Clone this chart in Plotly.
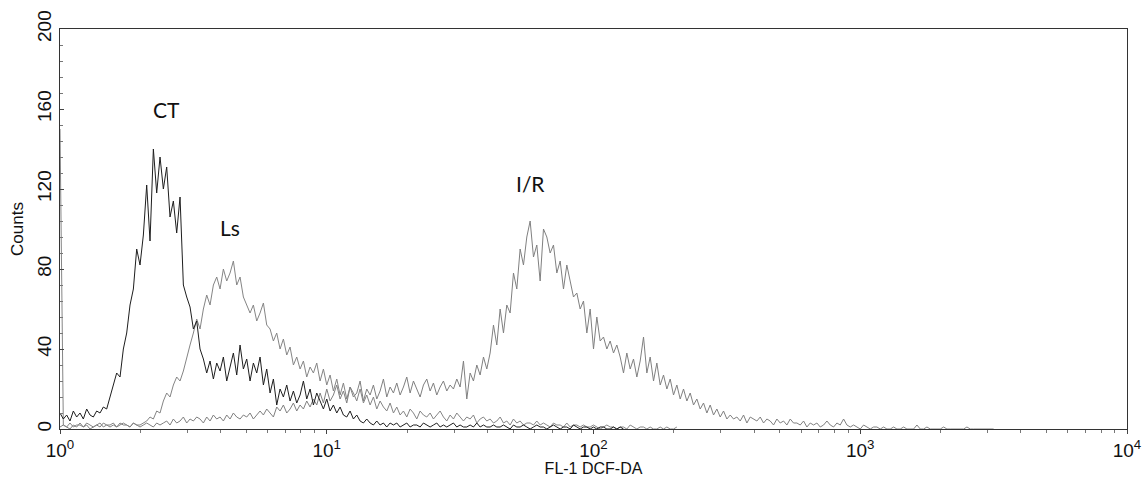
import math
import plotly.graph_objects as go

# Channel resolution of the exported histograms (channels per decade of FL-1)
CHANNELS_PER_DECADE = 80

# Counts per channel, starting at FL-1 = 10^0
ct_counts = [
    8, 5, 7, 4, 9, 6, 8, 5, 10, 7, 6, 9, 8,
    11, 10, 16, 22, 28, 26, 40, 48, 62, 70, 90, 82, 97, 122, 94, 140, 118,
    136, 120, 131, 106, 114, 98, 116, 72, 66, 61, 50, 54, 40, 35, 28, 34, 25, 33, 29, 36,
    24, 31, 38, 27, 42, 30, 35, 24, 33, 28, 36, 22, 30, 18, 25, 12, 20, 16, 22, 14,
    19, 13, 17, 24, 15, 20, 12, 18, 14, 10, 15, 9, 12, 8, 11, 7, 6, 9, 5, 7,
    4, 3, 5, 3, 2, 4, 2, 3, 1, 3, 2, 3, 1, 2, 3, 1, 2, 2, 1, 3,
    2, 1, 2, 3, 1, 2, 1, 2, 3, 1, 2, 1, 1, 2, 1, 3, 1, 2, 1, 1,
    2, 1, 1, 2, 1, 0, 2, 1, 1, 2, 1, 0, 1, 2, 1, 1, 0, 1, 2, 1,
    0, 1, 1, 0, 2, 1, 0, 1, 1, 0, 1, 0, 1, 1, 0, 0, 1, 0, 1, 0,
]

ls_counts = [
    150,
    2, 1, 3, 1, 2, 2, 1, 3, 2, 1, 2, 3, 1, 2, 2, 3, 1, 2, 3, 2, 1, 3, 2, 2, 3,
    4, 6, 5, 9, 8, 14, 18, 16, 22, 26, 24, 29, 36, 42, 48, 55, 50, 60, 67, 62,
    72, 76, 70, 80, 74, 78, 84, 72, 76, 66, 62, 58, 62, 54, 58, 63, 52, 50, 44, 48,
    40, 45, 37, 41, 32, 36, 30, 34, 26, 31, 28, 33, 24, 30, 22, 27, 19, 25, 17, 23,
    15, 21, 18, 14, 20, 13, 17, 12, 16, 10, 14, 11, 9, 13, 8, 11, 7, 9, 6, 10,
    8, 5, 9, 7, 6, 8, 5, 7, 9, 6, 4, 7, 5, 8, 6, 4, 6, 5, 7, 3,
    5, 6, 4, 5, 3, 4, 6, 3, 4, 2, 5, 3, 4, 2, 3, 3, 2, 4, 2, 3,
    2, 1, 3, 2, 2, 1, 3, 1, 2, 2, 1, 2, 1, 1, 2, 1, 0, 1, 2, 1,
    1, 0, 1, 1, 0, 2, 1, 0, 1, 1, 0, 1, 0, 0, 1, 0, 1, 0, 0, 1,
]

ir_counts = [
    1, 2, 1, 0, 2, 1, 3, 1, 2, 0, 1, 2, 1, 3, 2, 1, 2, 1, 3, 2, 2, 1, 3, 2, 1, 2, 3, 2, 1, 3, 2,
    3, 4, 2, 5, 3, 4, 6, 3, 5, 4, 6, 5, 3, 6, 4, 7, 5, 6, 4, 7, 5, 8, 6, 5, 7, 6, 8, 5, 7, 9,
    7, 10, 8, 6, 11, 9, 12, 8, 10, 13, 9, 12, 10, 14, 11,
    15, 12, 18, 13, 20, 14, 17, 22, 15, 19, 13, 21, 16, 18, 24, 14, 20, 17, 22, 15, 19, 25, 16, 21, 18,
    23, 17, 21, 26, 18, 24, 20, 16, 22, 25, 19, 23, 17, 21, 24, 19, 22, 20, 25, 21,
    34, 15, 28, 24, 32, 27, 36, 30, 38, 52, 42, 60, 48, 62, 58, 78, 70, 90, 82, 96,
    104, 86, 92, 74, 100, 96, 88, 92, 78, 84, 70, 82, 74, 66, 68, 60, 64, 48, 60, 40,
    56, 44, 46, 40, 44, 38, 42, 36, 28, 38, 30, 35, 26, 34, 46, 28, 36, 24, 33, 22,
    27, 20, 25, 17, 22, 15, 20, 14, 18, 12, 15, 10, 13, 8, 12, 7, 10, 6, 9, 5,
    7, 5, 6, 4, 7, 3, 6, 5, 4, 6, 3, 5, 4, 2, 5, 3, 4, 2, 5, 3,
    3, 2, 4, 1, 3, 2, 3, 1, 2, 4, 2, 1, 3, 2, 5, 2, 1, 2, 1, 0, 2, 1, 0, 1, 1, 0, 1, 0, 0, 1,
    0, 0, 1, 0, 0, 0, 2, 0, 0, 1, 0, 0, 0, 0, 1, 0, 0, 0, 0, 0, 0, 1, 0, 0, 0, 0, 0, 0, 0, 0,
]

# Peak labels: text, FL-1 position, count position
label_text = ["CT", "Ls", "I/R"]
label_fl1 = [2.5, 4.35, 58]
label_count = [160, 101, 123]

x_tick_vals = [1, 10, 100, 1000, 10000]
x_tick_text = ["10<sup>0</sup>", "10<sup>1</sup>", "10<sup>2</sup>", "10<sup>3</sup>", "10<sup>4</sup>"]
y_tick_vals = [0, 40, 80, 120, 160, 200]


def channel_axis(n):
    return [10 ** (k / CHANNELS_PER_DECADE) for k in range(n)]


fig = go.Figure()
for name, counts, colour in [
    ("I/R", ir_counts, "#808080"),
    ("Ls", ls_counts, "#858585"),
    ("CT", ct_counts, "#1e1e1e"),
]:
    fig.add_trace(go.Scatter(
        x=channel_axis(len(counts)), y=counts, mode="lines", name=name,
        line=dict(color=colour, width=1), showlegend=False,
    ))

for text, fx, cy in zip(label_text, label_fl1, label_count):
    fig.add_annotation(
        x=math.log10(fx), y=cy, text=text, showarrow=False,
        font=dict(family="Lato, Noto Sans", size=21, color="#111111"),
    )

minor_x = [m * 10 ** d for d in range(4) for m in range(2, 10)]

axis_font = dict(family="Liberation Sans, Arial", size=19, color="#111111")

fig.update_layout(
    width=1145, height=477,
    margin=dict(l=60, r=18, t=29, b=48),
    paper_bgcolor="white", plot_bgcolor="white",
    xaxis=dict(
        type="log", range=[0, 4], automargin=False,
        tickmode="array", tickvals=x_tick_vals, ticktext=x_tick_text,
        ticks="outside", ticklen=4, tickcolor="#444444",
        minor=dict(tickmode="array", tickvals=minor_x, ticks="outside", ticklen=3, tickcolor="#777777"),
        showline=True, linecolor="#333333", linewidth=1, mirror=True,
        showgrid=False, zeroline=False,
        tickfont=axis_font,
        title=dict(text="FL-1 DCF-DA", font=dict(family="Liberation Sans, Arial", size=16, color="#111111"), standoff=7),
    ),
    yaxis=dict(
        range=[0, 200], automargin=False,
        tickmode="array", tickvals=y_tick_vals, tickangle=-90,
        ticks="inside", ticklen=4, tickcolor="#444444",
        minor=dict(dtick=8, ticks="inside", ticklen=3, tickcolor="#777777"),
        showline=True, linecolor="#333333", linewidth=1, mirror=True,
        showgrid=False, zeroline=False,
        tickfont=axis_font,
        title=dict(text="Counts", font=dict(family="Liberation Sans, Arial", size=17, color="#111111"), standoff=6),
    ),
)

fig.write_html("out.html")
